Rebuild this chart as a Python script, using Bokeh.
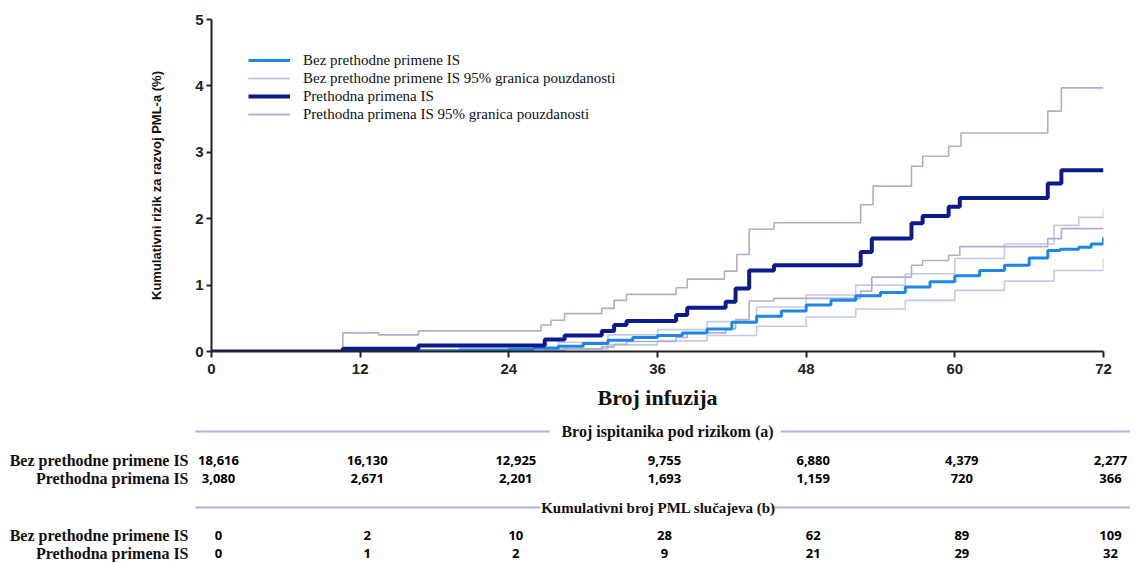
from bokeh.plotting import figure
from bokeh.layouts import column
from bokeh.models import Range1d, Legend, LegendItem, FixedTicker, ColumnDataSource
from bokeh.embed import file_html
from bokeh.resources import INLINE
from bokeh.core.properties import value

# ---------------- data ----------------
x_ticks = [0, 12, 24, 36, 48, 60, 72]
y_ticks = [0, 1, 2, 3, 4, 5]

# Bez prethodne primene IS (no prior IS)
bez_x = [0, 14, 20, 24, 26, 28, 30, 32, 34, 36, 38, 40, 42, 44, 46, 48, 50, 52, 54, 56,
         58, 60, 62, 64, 66, 67.5, 68.5, 70, 71, 72]
bez_y = [0, 0.01, 0.02, 0.03, 0.05, 0.08, 0.12, 0.17, 0.21, 0.24, 0.28, 0.34, 0.44, 0.53,
         0.61, 0.70, 0.77, 0.84, 0.89, 0.97, 1.05, 1.14, 1.22, 1.30, 1.41, 1.52, 1.54, 1.57,
         1.62, 1.72]
bez_hi_x = [0, 12, 20, 24, 28, 32, 36, 40, 44, 48, 52, 56, 60, 64, 68, 70, 72]
bez_hi_y = [0, 0.02, 0.05, 0.07, 0.14, 0.25, 0.33, 0.45, 0.67, 0.85, 1.00, 1.17, 1.40,
            1.62, 1.90, 2.02, 2.15]
bez_lo_x = [0, 24, 28, 32, 36, 40, 44, 48, 52, 56, 60, 64, 68, 72]
bez_lo_y = [0, 0.01, 0.04, 0.10, 0.16, 0.24, 0.38, 0.52, 0.64, 0.77, 0.92, 1.06, 1.22, 1.40]

# Prethodna primena IS (prior IS)
pre_x = [0, 10.6, 16.7, 26.9, 28.5, 31.5, 32.5, 33.5, 37.5, 38.4, 41.5, 42.3, 43.4, 45.4,
         52.4, 53.3, 56.5, 57.4, 59.5, 60.4, 67.5, 68.6, 72]
pre_y = [0, 0.04, 0.09, 0.18, 0.24, 0.31, 0.40, 0.46, 0.55, 0.66, 0.75, 0.95, 1.22, 1.30,
         1.50, 1.70, 1.93, 2.04, 2.18, 2.31, 2.53, 2.73, 2.73]
pre_hi_x = [0, 10.6, 13.5, 16.7, 26.6, 27.4, 28.5, 31.5, 32.5, 33.5, 37.5, 38.4, 41.4, 42.4,
            43.4, 45.4, 52.4, 53.4, 56.5, 57.4, 59.5, 60.5, 67.5, 68.6, 72]
pre_hi_y = [0, 0.28, 0.25, 0.31, 0.40, 0.47, 0.57, 0.65, 0.77, 0.86, 0.96, 1.09, 1.21, 1.46,
            1.84, 1.94, 2.21, 2.49, 2.79, 2.94, 3.09, 3.29, 3.62, 3.97, 3.97]
pre_lo_x = [0, 26.9, 28.5, 31.5, 32.5, 33.5, 37.5, 38.4, 41.5, 42.3, 43.4, 45.4, 52.4, 53.3,
            56.5, 57.4, 59.5, 60.4, 67.5, 68.6, 72]
pre_lo_y = [0, 0.02, 0.04, 0.07, 0.11, 0.15, 0.21, 0.28, 0.34, 0.48, 0.76, 0.80, 0.91, 1.12,
            1.30, 1.37, 1.45, 1.58, 1.70, 1.85, 1.85]

# risk table
row_labels = ["Bez prethodne primene IS", "Prethodna primena IS"]
at_risk_bez = [18616, 16130, 12925, 9755, 6880, 4379, 2277]
at_risk_pre = [3080, 2671, 2201, 1693, 1159, 720, 366]
cases_bez = [0, 2, 10, 28, 62, 89, 109]
cases_pre = [0, 1, 2, 9, 21, 29, 32]
header_risk = "Broj ispitanika pod rizikom (a)"
header_cases = "Kumulativni broj PML slučajeva (b)"

legend_labels = ["Bez prethodne primene IS",
                 "Bez prethodne primene IS 95% granica pouzdanosti",
                 "Prethodna primena IS",
                 "Prethodna primena IS 95% granica pouzdanosti"]

# ---------------- layout constants ----------------
W = 1130
B_LEFT, B_TOP, B_BOTTOM = 211, 19, 66
FRAME_W, FRAME_H = 892, 332
B_RIGHT = W - B_LEFT - FRAME_W
H1 = B_TOP + FRAME_H + B_BOTTOM
H2 = 562 - H1
X0, X1 = 0, 72
PX = FRAME_W / (X1 - X0)

LIGHT = "#1f86e6"
NAVY = "#0d1a8c"
CI_PRE = "#aeaecb"
CI_BEZ = "#c3c9e6"
SERIF = "Liberation Serif"
SANS = "Liberation Sans"

p = figure(width=W, height=H1, x_range=Range1d(X0, X1), y_range=Range1d(0, 5),
           output_backend="svg", toolbar_location=None,
           min_border_left=B_LEFT, min_border_right=B_RIGHT,
           min_border_top=B_TOP, min_border_bottom=B_BOTTOM)
p.frame_align = False
p.outline_line_color = None
p.grid.visible = False
p.background_fill_color = "white"

r_bez_hi = p.step(bez_hi_x, bez_hi_y, mode="after", line_color=CI_BEZ, line_width=1.6)
r_bez_lo = p.step(bez_lo_x, bez_lo_y, mode="after", line_color=CI_BEZ, line_width=1.6)
r_pre_hi = p.step(pre_hi_x, pre_hi_y, mode="after", line_color=CI_PRE, line_width=1.6)
r_pre_lo = p.step(pre_lo_x, pre_lo_y, mode="after", line_color=CI_PRE, line_width=1.6)
r_bez = p.step(bez_x, bez_y, mode="after", line_color=LIGHT, line_width=3)
r_pre = p.step(pre_x, pre_y, mode="after", line_color=NAVY, line_width=4)

legend = Legend(items=[
    LegendItem(label=legend_labels[0], renderers=[r_bez]),
    LegendItem(label=legend_labels[1], renderers=[r_bez_hi, r_bez_lo]),
    LegendItem(label=legend_labels[2], renderers=[r_pre]),
    LegendItem(label=legend_labels[3], renderers=[r_pre_hi, r_pre_lo]),
], location=(37, 228))
legend.padding = 0
legend.margin = 0
legend.spacing = 0
legend.glyph_width = 42
legend.glyph_height = 18
legend.label_height = 18
legend.label_standoff = 13
legend.border_line_alpha = 0
legend.background_fill_alpha = 0
legend.label_text_font = SERIF
legend.label_text_font_size = "15px"
legend.label_text_color = "#111111"
p.add_layout(legend)

for ax in (p.xaxis[0], p.yaxis[0]):
    ax.axis_line_color = "#222222"
    ax.axis_line_width = 2
    ax.major_tick_line_color = "#222222"
    ax.major_tick_line_width = 2
    ax.major_tick_in = 0
    ax.minor_tick_line_color = None
    ax.major_label_text_font = SANS
    ax.major_label_text_font_style = "bold"
    ax.major_label_text_font_size = "15px"
    ax.major_label_text_color = "#222222"

p.xaxis.ticker = FixedTicker(ticks=x_ticks)
p.xaxis.major_tick_out = 6
p.xaxis.major_label_standoff = 6
p.xaxis.axis_label = "Broj infuzija"
p.xaxis.axis_label_text_font = SERIF
p.xaxis.axis_label_text_font_style = "bold"
p.xaxis.axis_label_text_font_size = "22px"
p.xaxis.axis_label_text_color = "#111111"
p.xaxis.axis_label_standoff = 8

p.yaxis.ticker = FixedTicker(ticks=y_ticks)
p.yaxis.major_tick_out = 5
p.yaxis.major_label_standoff = 3
p.yaxis.axis_label = "Kumulativni rizik za razvoj PML-a (%)"
p.yaxis.axis_label_text_font = SANS
p.yaxis.axis_label_text_font_style = "bold"
p.yaxis.axis_label_text_font_size = "13px"
p.yaxis.axis_label_text_color = "#111111"
p.yaxis.axis_label_standoff = 28

# ---------------- risk table (full-width frame, same x scale as the chart) ----------------
q = figure(width=W, height=H2,
           x_range=Range1d(X0 - B_LEFT / PX, X1 + B_RIGHT / PX), y_range=Range1d(H2, 0),
           output_backend="svg", toolbar_location=None, min_border=0,
           x_axis_location=None, y_axis_location=None)
q.frame_align = False
q.outline_line_color = None
q.grid.visible = False

Y_SEP1, Y_R1, Y_R2, Y_SEP2, Y_R3, Y_R4 = 14, 43, 61, 90, 118, 136
HDR_GAP = 118 / PX
SEP_COLOR = "#a9b6e0"

for hdr, ysep, shift, fsize in ((header_risk, Y_SEP1, 10, "16px"),
                                (header_cases, Y_SEP2, 1, "15px")):
    cx = x_ticks[3]
    q.segment(x0=[X0 - 1.3, cx + shift / PX + HDR_GAP * 0.96], y0=[ysep, ysep],
              x1=[cx + shift / PX - HDR_GAP, X1 + B_RIGHT / PX], y1=[ysep, ysep],
              line_color=SEP_COLOR, line_width=2)
    q.text(x=[cx], y=[ysep], text=[hdr], x_offset=shift, text_align="center",
           text_baseline="middle", text_font=value(SERIF), text_font_style="bold",
           text_font_size=fsize, text_color="#111111")

for ys in ((Y_R1, Y_R2), (Y_R3, Y_R4)):
    q.text(x=[x_ticks[0]] * 2, y=list(ys), text=row_labels, x_offset=-23,
           text_align="right", text_baseline="middle", text_font=value(SERIF),
           text_font_style="bold", text_font_size="16px", text_color="#111111")

for vals, yrow in ((at_risk_bez, Y_R1), (at_risk_pre, Y_R2),
                   (cases_bez, Y_R3), (cases_pre, Y_R4)):
    src = ColumnDataSource(dict(x=x_ticks, y=[yrow] * len(x_ticks),
                                t=[f"{v:,}" for v in vals]))
    q.text(x="x", y="y", text="t", source=src, x_offset=7, text_align="center",
           text_baseline="middle", text_font=value("Open Sans"), text_font_style="bold",
           text_font_size="13px", text_color="#000000")

layout = column(p, q, spacing=0)
open("out.html", "w").write(file_html(layout, INLINE))
